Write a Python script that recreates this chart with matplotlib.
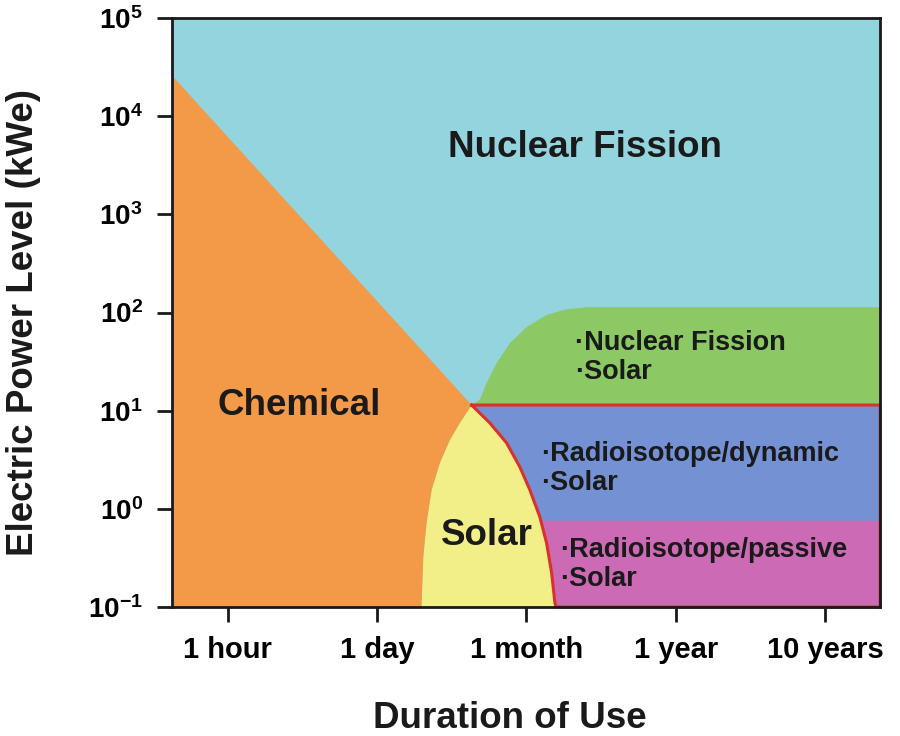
import numpy as np
import matplotlib
matplotlib.use("Agg")
import matplotlib.pyplot as plt
from matplotlib.patches import Polygon
from matplotlib.ticker import NullLocator

plt.rcParams['font.family'] = ['Liberation Sans', 'DejaVu Sans']
plt.rcParams['font.weight'] = 'bold'
plt.rcParams['mathtext.fontset'] = 'custom'
plt.rcParams['mathtext.rm'] = 'Liberation Sans:bold'
plt.rcParams['mathtext.bf'] = 'Liberation Sans:bold'

# Категории длительности (равномерно по оси)
durations = ['1 hour', '1 day', '1 month', '1 year', '10 years']
dur_pos = np.arange(len(durations))
x_min, x_max = -0.375, 4.37

# Уровни мощности, кВт
power_ticks = [0.1, 1, 10, 100, 1000, 10000, 100000]
power_labels = [r'$\mathbf{10^{-1}}$', r'$\mathbf{10^{0}}$', r'$\mathbf{10^{1}}$',
                r'$\mathbf{10^{2}}$', r'$\mathbf{10^{3}}$', r'$\mathbf{10^{4}}$',
                r'$\mathbf{10^{5}}$']

# Граница химических источников (прямая)
chem_x = [-0.375, 1.633]
chem_y = [2.6e4, 11.4]

# Левая граница солнечной области
solar_left_x = [1.633, 1.554, 1.487, 1.420, 1.365, 1.331, 1.309, 1.298, 1.296]
solar_left_y = [11.4, 7.50, 5.02, 2.93, 1.56, 0.718, 0.324, 0.11, 0.1]

# Правая граница солнечной области (красная)
solar_right_x = [1.633, 1.755, 1.867, 1.956, 2.023, 2.090, 2.135, 2.169, 2.191, 2.198]
solar_right_y = [11.4, 7.50, 4.69, 2.67, 1.56, 0.826, 0.449, 0.222, 0.11, 0.1]

# Верхняя граница зелёной области
green_x = [1.633, 1.688, 1.733, 1.801, 1.890, 2.002, 2.135, 2.269, 2.403, 4.37]
green_y = [11.4, 12.9, 19.1, 30.6, 48.9, 71.1, 94.4, 108, 113, 113]

box_top = 11.4       # верх красной рамки
dyn_passive = 0.77   # граница dynamic / passive
y_min, y_max = 0.1, 1e5

c_fission = '#93d4df'
c_chem = '#f39a48'
c_solar = '#f3ef88'
c_green = '#8cc864'
c_dyn = '#7491d4'
c_pass = '#cd6ab6'
c_red = '#d8322a'

fig = plt.figure(figsize=(9, 7.36), dpi=100)
ax = fig.add_axes([0.191, 0.1753, 0.787, 0.8002])
ax.set_yscale('log')
ax.set_xlim(x_min, x_max)
ax.set_ylim(y_min, y_max)
ax.set_facecolor(c_fission)

# Зелёная область
gx = green_x + [x_max, green_x[0]]
gy = green_y + [box_top, box_top]
ax.fill(gx, gy, color=c_green, lw=0, zorder=1)

# Красная рамка: radioisotope области
bx = solar_right_x + [x_max, x_max]
by = solar_right_y + [y_min, box_top]
box = Polygon(np.column_stack([bx, by]), closed=True, transform=ax.transData,
              facecolor=c_dyn, edgecolor='none', zorder=2)
ax.add_patch(box)
pink = ax.fill_between([min(solar_right_x), x_max], y_min, dyn_passive,
                       color=c_pass, lw=0, zorder=3)
pink.set_clip_path(box)
ax.plot([min(solar_right_x), x_max], [dyn_passive, dyn_passive], color='#8f86c8',
        lw=1, zorder=3, clip_path=box)

# Солнечная область
sx = solar_left_x + solar_right_x[::-1]
sy = solar_left_y + solar_right_y[::-1]
ax.fill(sx, sy, color=c_solar, lw=0, zorder=4)

# Химическая область
cx = [x_min] + chem_x + solar_left_x[1:]
cy = [y_min] + chem_y + solar_left_y[1:]
ax.fill(cx, cy, color=c_chem, lw=0, zorder=5)

# Красный контур
ax.plot(bx + [bx[0]], by + [by[0]], color=c_red, lw=2.2, zorder=6, clip_on=False,
        solid_joinstyle='round')

# Подписи областей
big = dict(fontsize=26.5, fontweight='bold', color='#1a1a1a', zorder=10)
ax.text(2.39, 4750, 'Nuclear Fission', ha='center', va='center', **big)
ax.text(0.48, 11.4, 'Chemical', ha='center', va='center', **big)
ax.text(1.735, 0.54, 'Solar', ha='center', va='center', **big)

small = dict(fontsize=19.5, fontweight='bold', color='#1a1a1a', zorder=10,
             linespacing=1.15, ha='left', va='center')
ax.text(2.325, 35.2, '·Nuclear Fission\n·Solar', **small)
ax.text(2.097, 2.6, '·Radioisotope/dynamic\n·Solar', **small)
ax.text(2.224, 0.268, '·Radioisotope/passive\n·Solar', **small)

# Оси
ax.set_xticks(dur_pos)
ax.set_xticklabels(durations, fontsize=21, fontweight='bold')
ax.set_yticks(power_ticks)
ax.set_yticklabels(power_labels, fontsize=20)
ax.yaxis.set_minor_locator(NullLocator())
ax.tick_params(direction='out', length=11, width=2, color='#1a1a1a', pad=10)
for s in ax.spines.values():
    s.set_linewidth(2)
    s.set_color('#1a1a1a')
    s.set_zorder(7)

fig.text(510 / 900, 1 - 718 / 736, 'Duration of Use', fontsize=26.5,
         fontweight='bold', ha='center', va='center', color='#1a1a1a')
fig.text(24 / 900, 1 - 322 / 736, 'Electric Power Level (kWe)', fontsize=26.5,
         fontweight='bold', ha='center', va='center', rotation=90, color='#1a1a1a')

fig.savefig('out.png', dpi=100)
